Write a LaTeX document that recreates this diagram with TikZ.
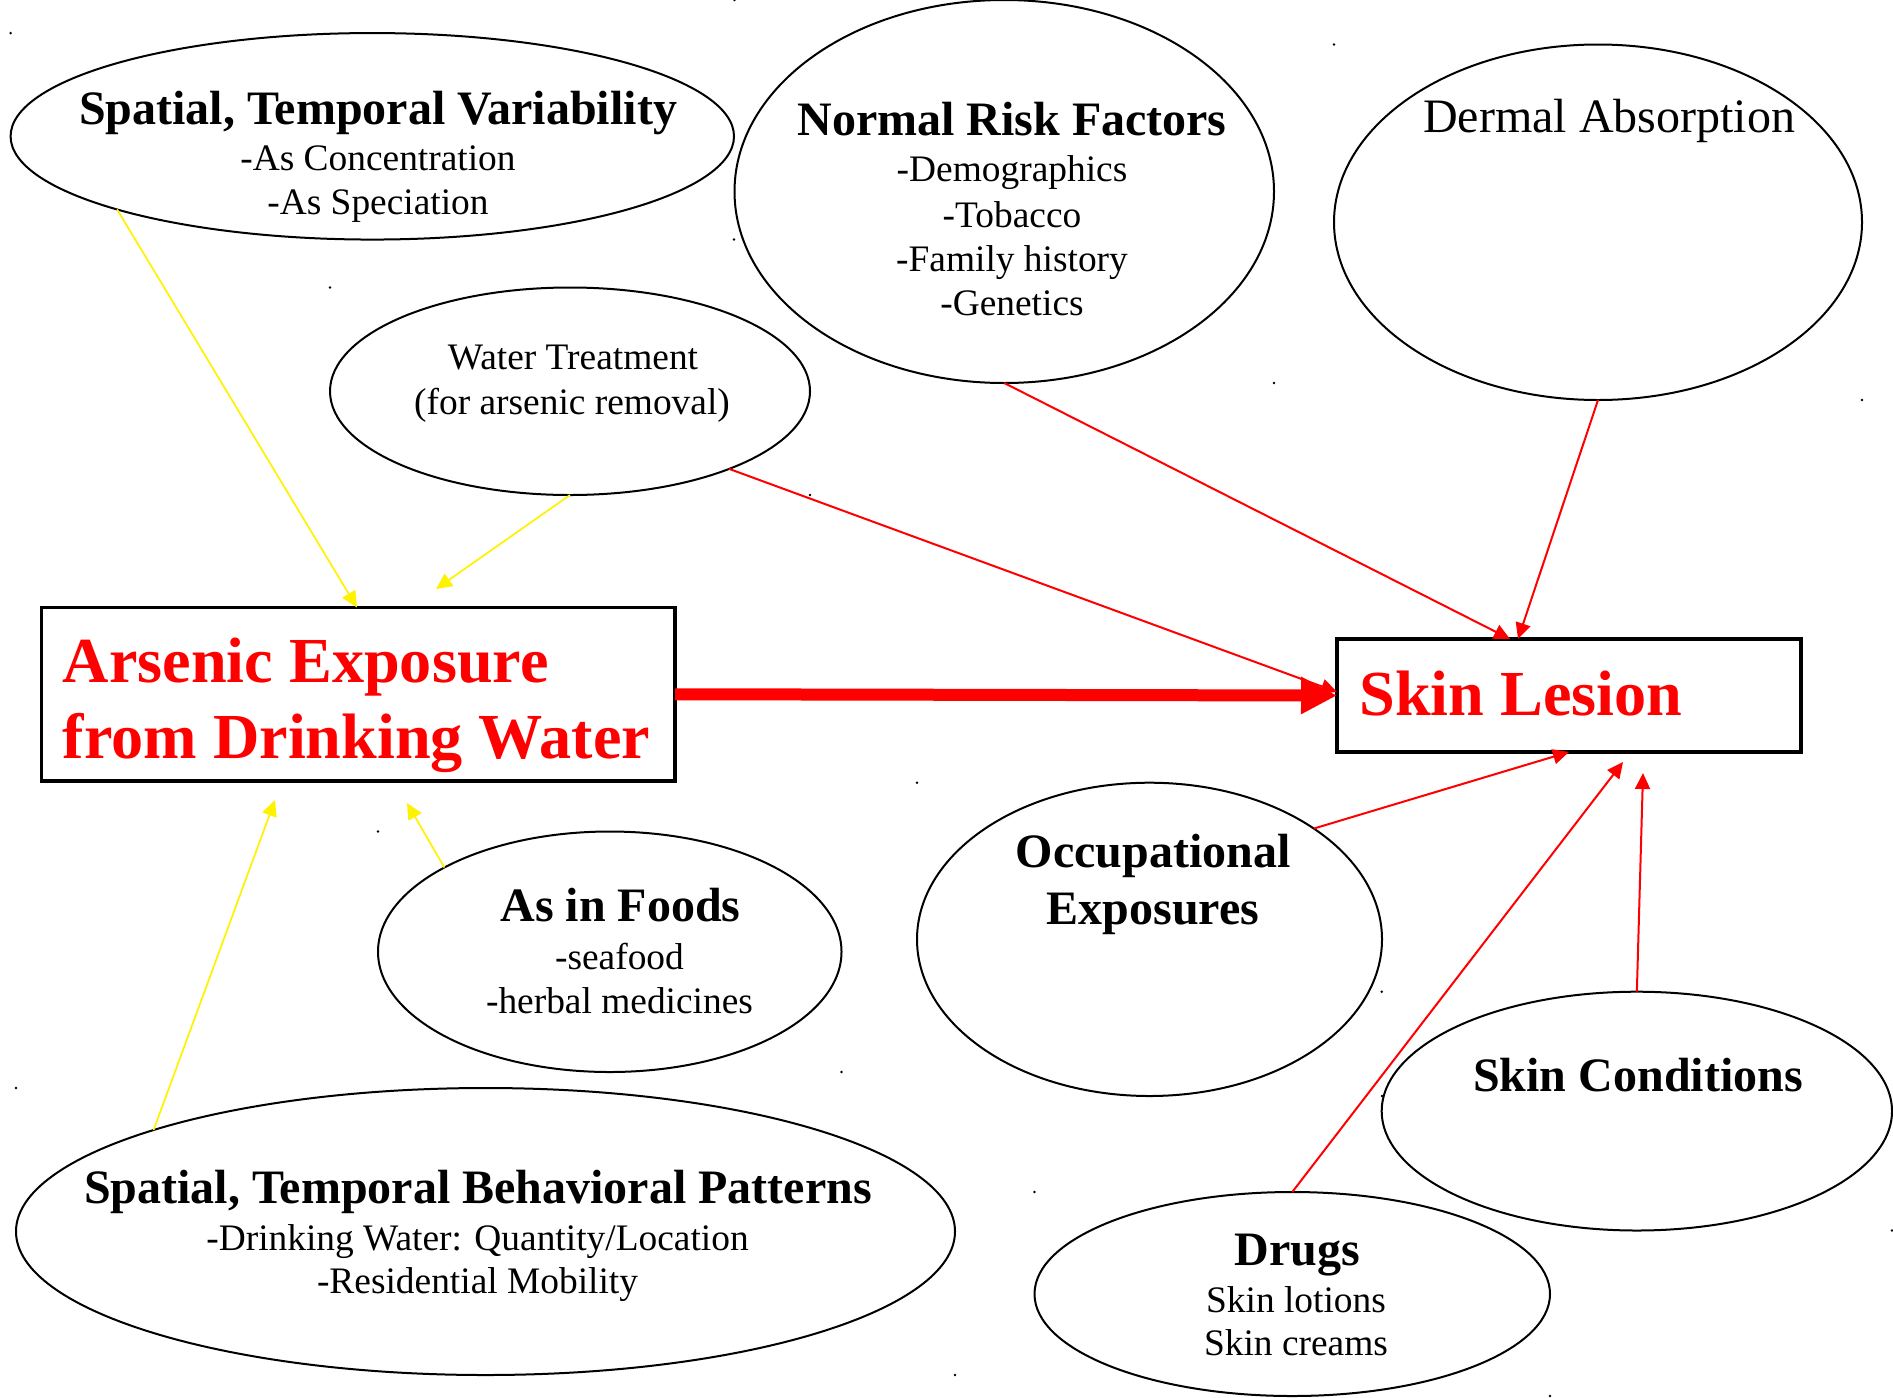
\documentclass[tikz,border=0pt]{standalone}
\usepackage{fontspec}
\setmainfont{Liberation Serif}
\usetikzlibrary{shapes.geometric,arrows.meta}
\begin{document}
\begin{tikzpicture}[x=0.5pt,y=-0.5pt,
  ell/.style={draw, ellipse, line width=1pt, inner sep=0pt, outer sep=0pt},
  box/.style={draw, rectangle, line width=1.7pt, inner sep=0pt, outer sep=0pt},
  ttl/.style={anchor=base, inner sep=0pt, font=\fontsize{24}{28}\selectfont\bfseries},
  sub/.style={anchor=base, inner sep=0pt, font=\fontsize{18.7}{22}\selectfont},
  big/.style={anchor=base west, inner sep=0pt, text=red, font=\fontsize{32.1}{38}\selectfont\bfseries},
  yarr/.style={draw=yellow, line width=0.85pt, -{Triangle[length=8pt,width=7.5pt]}},
  rarr/.style={draw=red, line width=1pt, -{Triangle[length=8pt,width=7.5pt]}},
  thickarr/.style={draw=red, line width=6pt, -{Triangle[length=18pt,width=17.5pt]}},
  speck/.style={fill=black}
]
\path[use as bounding box, fill=white] (0,0) rectangle (1893,1397);

% ellipses
\node[ell, minimum width=361.7pt, minimum height=103.25pt] (stv) at (372.3,136.3) {};
\node[ell, minimum width=269.75pt, minimum height=191.5pt] (nrf) at (1004.25,191.5) {};
\node[ell, minimum width=264pt, minimum height=177.75pt] (derm) at (1598,222.25) {};
\node[ell, minimum width=240pt, minimum height=103.75pt] (wt) at (570,391.25) {};
\node[ell, minimum width=231.75pt, minimum height=120.25pt] (foods) at (609.75,951.75) {};
\node[ell, minimum width=469.5pt, minimum height=143.5pt] (stbp) at (485.5,1231.5) {};
\node[ell, minimum width=232.5pt, minimum height=156.65pt] (occ) at (1149.5,939.35) {};
\node[ell, minimum width=255.15pt, minimum height=119.4pt] (sc) at (1636.85,1111.1) {};
\node[ell, minimum width=257.75pt, minimum height=102pt] (drugs) at (1292.25,1294) {};

% boxes
\node[box, minimum width=316.75pt, minimum height=86.75pt] (ars) at (358.25,694.25) {};
\node[box, minimum width=232pt, minimum height=56.5pt] (sl) at (1569,695.5) {};

% texts
\node[ttl] (t1) at (378,124) {Spatial, Temporal Variability};
\node[sub] (t2) at (378,170) {-As Concentration};
\node[sub] (t3) at (378,214) {-As Speciation};

\node[ttl] (t4) at (1012,135) {Normal Risk Factors};
\node[sub] (t5) at (1012,181.7) {-Demographics};
\node[sub] (t6) at (1012,227.7) {-Tobacco};
\node[sub] (t7) at (1012,271.7) {-Family history};
\node[sub] (t8) at (1012,315) {-Genetics};

\node[anchor=base, inner sep=0pt, font=\fontsize{24}{28}\selectfont] (t9) at (1609,132) {Dermal Absorption};

\node[sub] (t10) at (573,369) {Water Treatment};
\node[sub] (t11) at (572,414) {(for arsenic removal)};

\node[ttl] (t12) at (620.5,921) {As in Foods};
\node[sub] (t13) at (619.5,969) {-seafood};
\node[sub] (t14) at (619.5,1013) {-herbal medicines};

\node[ttl] (t15) at (478,1203) {Spatial, Temporal Behavioral Patterns};
\node[sub] (t16) at (477.5,1250) {-Drinking Water: Quantity/Location};
\node[sub] (t17) at (477.5,1293) {-Residential Mobility};

\node[ttl] (t18) at (1153,867) {Occupational};
\node[ttl] (t19) at (1153,924) {Exposures};

\node[ttl] (t20) at (1638,1091) {Skin Conditions};

\node[ttl] (t21) at (1297,1265) {Drugs};
\node[sub] (t22) at (1296,1312) {Skin lotions};
\node[sub] (t23) at (1296,1355) {Skin creams};

\node[big] (t24) at (62.5,682) {Arsenic Exposure};
\node[big] (t25) at (62.5,758) {from Drinking Water};
\node[big] (t26) at (1359,715) {Skin Lesion};

% free ends of connectors
\coordinate (ya) at (357,607.5);
\coordinate (yb) at (436,589);
\coordinate (yc) at (407,803);
\coordinate (yd) at (275,800);
\coordinate (ra) at (1510,639);
\coordinate (rb) at (1518,639);
\coordinate (rc) at (1337,692);
\coordinate (rd) at (1623,762);
\coordinate (re) at (1643,773);

% yellow connectors
\draw[yarr] (stv.196) -- (ya);
\draw[yarr] (wt.south) -- (yb);
\draw[yarr] (foods.153) -- (yc);
\draw[yarr] (stbp.163) -- (yd);

% red connectors
\draw[thickarr] (ars.east) -- (sl.west);
\draw[rarr] (nrf.south) -- (ra);
\draw[rarr] (derm.south) -- (rb);
\draw[rarr] (wt.-26) -- (rc);
\draw[rarr] (occ.34) -- (sl.south);
\draw[rarr] (drugs.north) -- (rd);
\draw[rarr] (sc.north) -- (re);

% small specks at ellipse bounding-box corners
\foreach \e in {stv,nrf,derm,wt,foods,stbp,occ,sc,drugs}{
  \fill[speck] (\e.north -| \e.west) circle (1.4);
  \fill[speck] (\e.south -| \e.east) circle (1.4);
}
\end{tikzpicture}
\end{document}
